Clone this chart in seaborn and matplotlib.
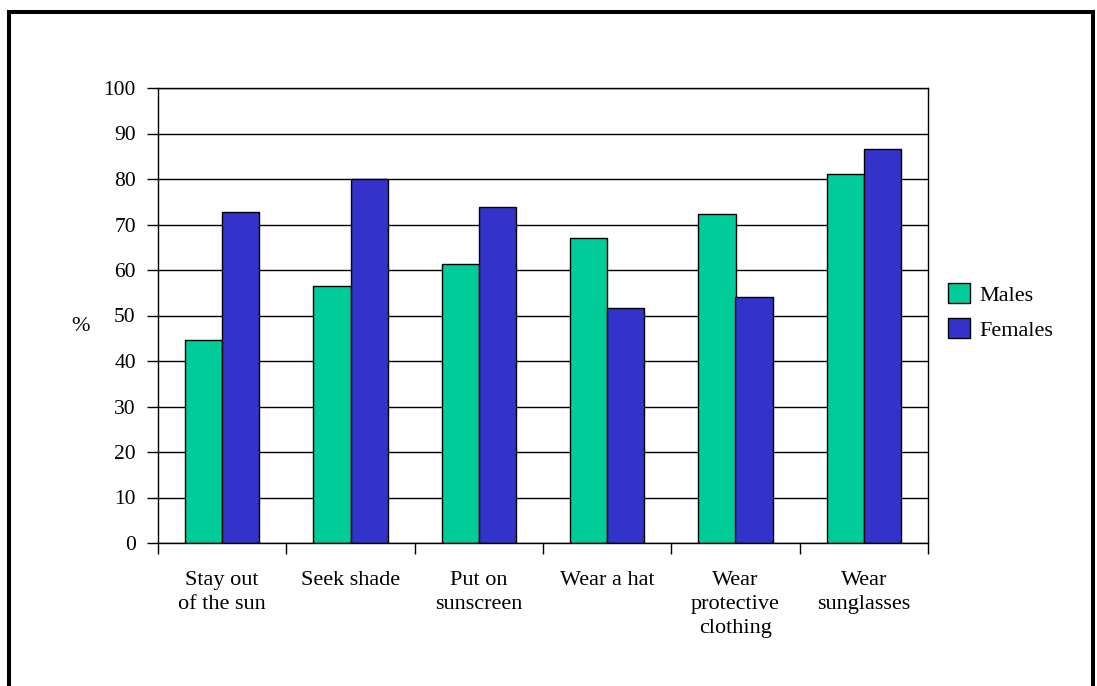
import matplotlib
matplotlib.use("Agg")
import matplotlib.pyplot as plt
import seaborn as sns
import pandas as pd
from matplotlib.lines import Line2D

categories = ["Stay out\nof the sun", "Seek shade", "Put on\nsunscreen", "Wear a hat",
              "Wear\nprotective\nclothing", "Wear\nsunglasses"]
males = [44.6, 56.5, 61.4, 67.0, 72.4, 81.0]
females = [72.7, 80.0, 73.9, 51.6, 54.1, 86.7]
series_names = ["Males", "Females"]
yticks = list(range(0, 101, 10))

df = pd.DataFrame({
    "category": categories * 2,
    "value": males + females,
    "sex": [series_names[0]] * len(categories) + [series_names[1]] * len(categories),
})

sns.set_theme(style="white")
plt.rcParams['font.family'] = ['Liberation Serif', 'DejaVu Serif']
plt.rcParams['text.color'] = 'black'
plt.rcParams['axes.labelcolor'] = 'black'
plt.rcParams['xtick.color'] = 'black'
plt.rcParams['ytick.color'] = 'black'

W, H = 1097, 686
fig = plt.figure(figsize=(W / 100, H / 100), dpi=100)
ax = fig.add_axes([158 / W, 1 - 543 / H, (928 - 158) / W, (543 - 88) / H])

sns.barplot(data=df, x="category", y="value", hue="sex", order=categories,
            hue_order=series_names, palette=["#00CC99", "#3333CC"],
            width=0.58, gap=0, edgecolor="black", linewidth=1.0,
            saturation=1, ax=ax, legend=True)

ax.set_ylim(0, 100)
ax.set_xlim(-0.5, len(categories) - 0.5)
ax.set_yticks(yticks)
ax.set_yticklabels([str(t) for t in yticks], fontsize=15.5)
ax.set_xlabel("")
ax.set_ylabel("")
ax.set_axisbelow(True)
ax.yaxis.grid(True, color="black", linewidth=1.0)
ax.xaxis.grid(False)

for s in ax.spines.values():
    s.set_visible(True)
    s.set_color("black")
    s.set_linewidth(1.0)

ax.tick_params(axis="y", which="major", direction="out", length=8, width=1,
               color="black", left=True, pad=8, labelcolor="black")
ax.tick_params(axis="x", which="major", length=0, pad=20, labelsize=16, labelcolor="black")
for lbl in ax.get_xticklabels():
    lbl.set_linespacing(1.38)
ax.set_xticks([i - 0.5 for i in range(len(categories) + 1)], minor=True)
ax.tick_params(axis="x", which="minor", direction="out", length=8, width=1,
               color="black", bottom=True)

leg = ax.legend(loc="center left", bbox_to_anchor=(948 / W, 1 - 312 / H),
                bbox_transform=fig.transFigure, frameon=False, fontsize=16,
                handlelength=1.0, handleheight=1.0, handletextpad=0.42,
                labelspacing=0.55, borderpad=0, borderaxespad=0)
for h in leg.legend_handles:
    h.set_edgecolor("black")
    h.set_linewidth(1.0)
for t in leg.get_texts():
    t.set_color("black")

fig.text(80 / W, 1 - 326 / H, "%", ha="center", va="center", fontsize=16, color="black")

# outer border (top, left, right)
lw = 2.9
fig.add_artist(Line2D([9 / W, 1093 / W], [1 - 12 / H, 1 - 12 / H], color="black",
                      linewidth=lw, transform=fig.transFigure, solid_capstyle="projecting"))
fig.add_artist(Line2D([9 / W, 9 / W], [0, 1 - 12 / H], color="black",
                      linewidth=lw, transform=fig.transFigure, solid_capstyle="projecting"))
fig.add_artist(Line2D([1093 / W, 1093 / W], [0, 1 - 12 / H], color="black",
                      linewidth=lw, transform=fig.transFigure, solid_capstyle="projecting"))

fig.savefig("out.png", dpi=100, facecolor="white")
